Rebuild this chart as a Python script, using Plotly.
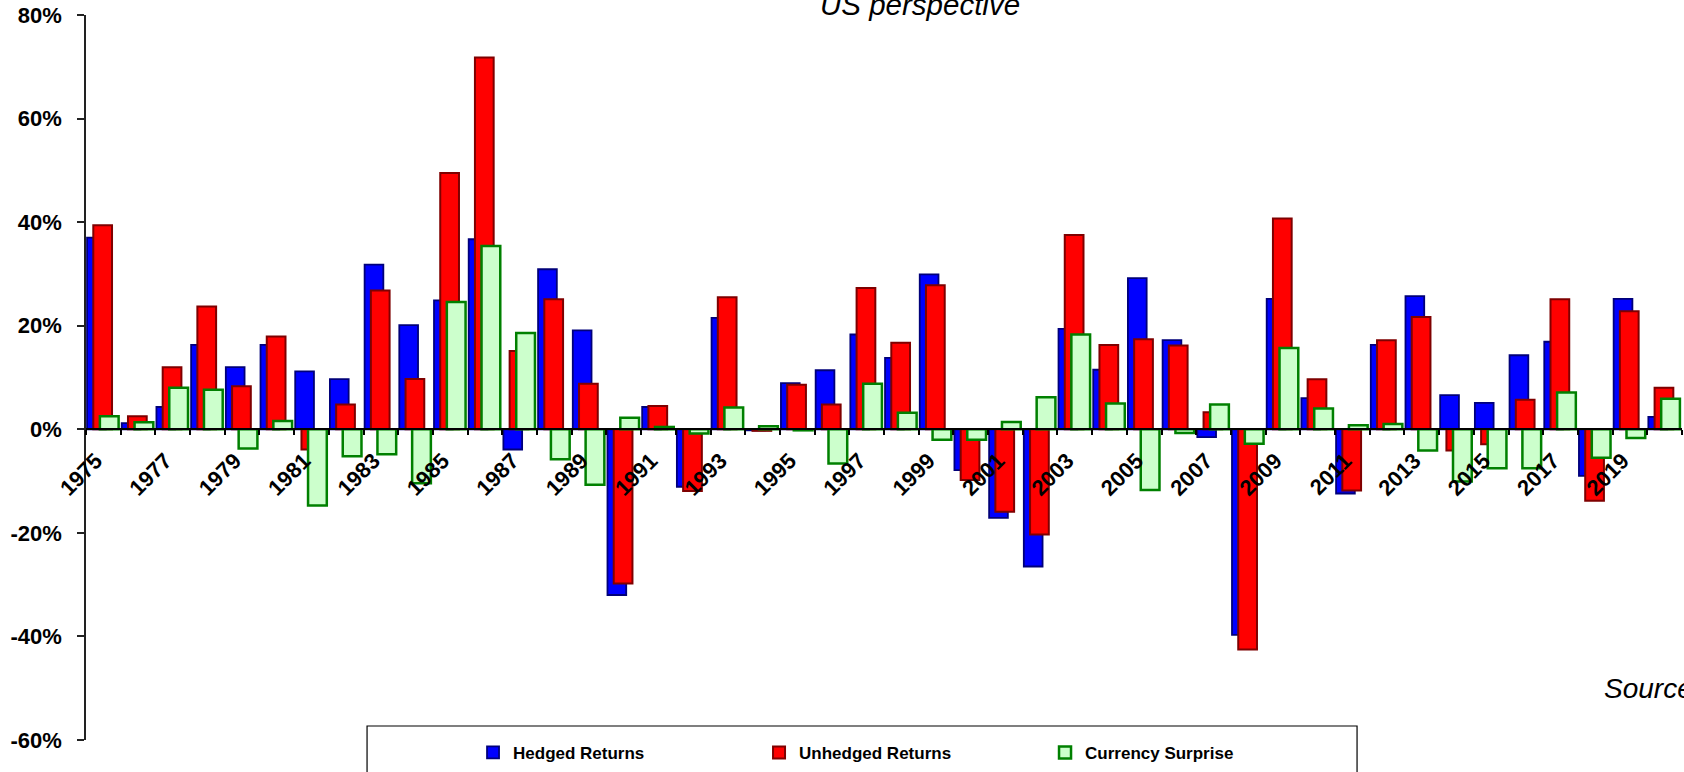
import plotly.graph_objects as go

# Annual returns, % (US investor perspective)
years = list(range(1975, 2021))

hedged_returns = [
    37.0, 1.2, 4.3, 16.3, 12.0, 16.3, 11.2, 9.7, 31.8, 20.1,
    24.9, 36.7, -3.9, 30.9, 19.1, -32.0, 4.3, -11.1, 21.5, -0.2,
    8.9, 11.4, 18.3, 13.8, 29.9, -7.9, -17.1, -26.5, 19.4, 11.5,
    29.2, 17.2, -1.5, -39.7, 25.2, 6.0, -12.4, 16.3, 25.7, 6.6,
    5.1, 14.3, 16.9, -9.0, 25.2, 2.4,
]

unhedged_returns = [
    39.4, 2.5, 12.0, 23.7, 8.3, 17.9, -3.9, 4.8, 26.8, 9.7,
    49.5, 71.8, 15.1, 25.1, 8.8, -29.8, 4.5, -11.9, 25.5, -0.3,
    8.6, 4.8, 27.3, 16.7, 27.8, -9.8, -15.9, -20.3, 37.5, 16.3,
    17.4, 16.2, 3.3, -42.5, 40.7, 9.65, -11.8, 17.2, 21.7, -4.1,
    -2.9, 5.7, 25.1, -13.8, 22.8, 8.0,
]

currency_surprise = [
    2.5, 1.35, 8.0, 7.65, -3.7, 1.6, -14.7, -5.2, -4.8, -10.4,
    24.6, 35.4, 18.6, -5.8, -10.7, 2.25, 0.45, -0.8, 4.2, 0.6,
    -0.2, -6.6, 8.8, 3.2, -2.0, -2.0, 1.4, 6.2, 18.3, 5.0,
    -11.7, -0.7, 4.8, -2.8, 15.7, 4.0, 0.8, 1.0, -4.1, -10.1,
    -7.5, -7.5, 7.1, -5.5, -1.7, 5.9,
]

y_ticks = [-60, -40, -20, 0, 20, 40, 60, 80]

FONT = "Liberation Sans, Arial, Helvetica, sans-serif"
Y_MIN, Y_MAX = -60, 80

# three overlapping bars per year, stepped to the right
BAR_W = 0.54
series = [
    ("Hedged Returns", hedged_returns, "#0000FF", "#00007A", 1.8, -0.47),
    ("Unhedged Returns", unhedged_returns, "#FF0000", "#7F0000", 2.0, -0.29),
    ("Currency Surprise", currency_surprise, "#CCFFCC", "#008000", 2.5, -0.10),
]

fig = go.Figure()
for name, vals, fill, edge, lw, off in series:
    fig.add_trace(go.Bar(
        x=years, y=vals, name=name,
        width=BAR_W, offset=off,
        marker=dict(color=fill, line=dict(color=edge, width=lw)),
    ))

# category boundaries carry the tick marks; every second year is labelled
boundaries = [y - 0.5 for y in years] + [years[-1] + 0.5]
boundary_text = [str(y) if (y - years[0]) % 2 == 0 else "" for y in years] + [""]

zero_pos = (0 - Y_MIN) / (Y_MAX - Y_MIN)

fig.update_layout(
    width=1684, height=772,
    margin=dict(l=86, r=2, t=15, b=32, autoexpand=False),
    paper_bgcolor="white", plot_bgcolor="white",
    barmode="overlay",
    font=dict(family=FONT, color="black"),
    xaxis=dict(
        range=[years[0] - 0.5, years[-1] + 0.5],
        anchor="free", position=zero_pos,
        showline=True, linecolor="black", linewidth=2,
        showgrid=False, zeroline=False,
        ticks="outside", ticklen=5, tickwidth=1.5, tickcolor="black",
        tickmode="array", tickvals=boundaries, ticktext=boundary_text,
        tickangle=-45, ticklabelshift=10, ticklabelstandoff=4,
        tickfont=dict(family=FONT, size=22, weight="bold", color="black"),
    ),
    yaxis=dict(
        range=[Y_MIN, Y_MAX],
        showline=True, linecolor="#222222", linewidth=1.5,
        showgrid=False, zeroline=False,
        ticks="outside", ticklen=7, tickwidth=1.5, tickcolor="#222222",
        tickmode="array", tickvals=y_ticks,
        ticktext=[f"{v}%" for v in y_ticks],
        ticklabelstandoff=11,
        tickfont=dict(family=FONT, size=22, weight="bold", color="black"),
    ),
    legend=dict(
        orientation="h",
        x=0.2425, xanchor="left",
        y=0.007, yanchor="top",
        entrywidth=241, entrywidthmode="pixels",
        bgcolor="rgba(0,0,0,0)", borderwidth=0,
        font=dict(family=FONT, size=17, weight="bold", color="black"),
    ),
    shapes=[dict(
        type="rect", xref="paper", yref="paper",
        x0=0.1761, x1=0.7964, y0=0.0193, y1=-0.08,
        line=dict(color="black", width=1.2), fillcolor="white", layer="below",
    )],
    annotations=[
        dict(text="<i>US perspective</i>", xref="paper", yref="paper",
             x=0.5226, y=1, xanchor="center", yanchor="bottom", yshift=-8,
             showarrow=False, font=dict(family=FONT, size=29.5, color="black")),
        dict(text="<i>Source</i>", xref="paper", yref="paper",
             x=0.9499, y=0.0506, xanchor="left", yanchor="bottom", yshift=-3,
             showarrow=False, font=dict(family=FONT, size=28, color="black")),
    ],
)

fig.write_html("out.html")
